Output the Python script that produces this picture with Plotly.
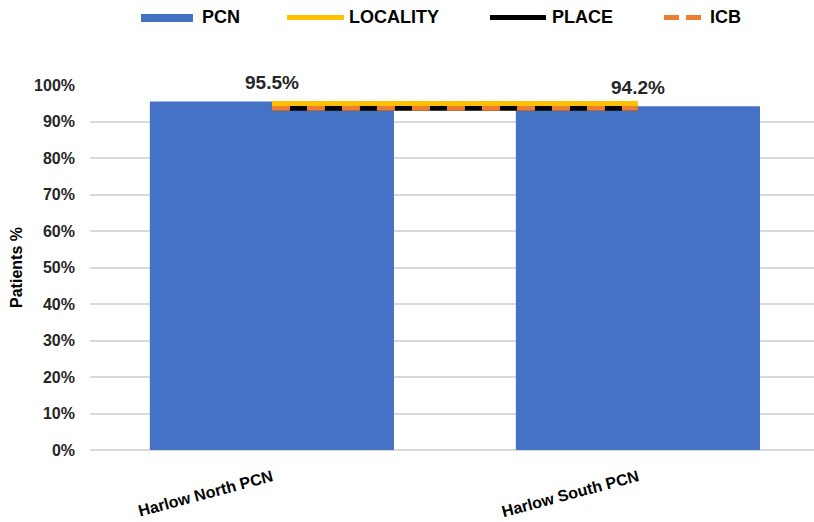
import plotly.graph_objects as go

# Data
categories = ["Harlow North PCN", "Harlow South PCN"]
pcn_values = [0.955, 0.942]
locality_values = [0.949, 0.949]
place_values = [0.936, 0.936]
icb_values = [0.936, 0.936]
y_ticks = [i / 10 for i in range(11)]
y_tick_labels = [f"{i * 10}%" for i in range(11)]

BLUE = "#4472C4"
YELLOW = "#FFC000"
BLACK = "#000000"
ORANGE = "#ED7D31"
FONT = "Liberation Sans"

W, H = 814, 522
M_L, M_R, M_T, M_B = 90, 0, 85, 72

fig = go.Figure()

fig.add_trace(go.Bar(
    x=categories, y=pcn_values, name="PCN",
    marker=dict(color=BLUE, line=dict(width=0)),
    showlegend=False, hoverinfo="skip",
))
fig.add_trace(go.Scatter(
    x=categories, y=place_values, name="PLACE", mode="lines",
    line=dict(color=BLACK, width=5), showlegend=False,
))
fig.add_trace(go.Scatter(
    x=categories, y=icb_values, name="ICB", mode="lines",
    line=dict(color=ORANGE, width=5, dash="18px,17px"), showlegend=False,
))
fig.add_trace(go.Scatter(
    x=categories, y=locality_values, name="LOCALITY", mode="lines",
    line=dict(color=YELLOW, width=5), showlegend=False,
))

# Value labels above the bars
annotations = []
for cat, val in zip(categories, pcn_values):
    annotations.append(dict(
        x=cat, y=val, xref="x", yref="y", text=f"{val * 100:.1f}%",
        showarrow=False, yanchor="bottom", yshift=6,
        font=dict(family=FONT, size=19, color="#262626", weight="bold"),
    ))


# Legend drawn across the top
def px_x(p):
    return (p - M_L) / (W - M_L - M_R)


def px_y(p):
    return (H - M_B - p) / (H - M_T - M_B)


shapes = []
ly = 17.5
shapes.append(dict(type="rect", xref="paper", yref="paper",
                   x0=px_x(141), x1=px_x(193), y0=px_y(22), y1=px_y(14),
                   fillcolor=BLUE, line=dict(width=0)))
for (x0, x1), col in [((287, 344), YELLOW), ((490, 546), BLACK),
                      ((664, 679), ORANGE), ((686, 701), ORANGE)]:
    shapes.append(dict(type="line", xref="paper", yref="paper",
                       x0=px_x(x0), x1=px_x(x1), y0=px_y(ly), y1=px_y(ly),
                       line=dict(color=col, width=5)))
for label, lx in [("PCN", 200), ("LOCALITY", 347), ("PLACE", 550), ("ICB", 708)]:
    annotations.append(dict(
        x=px_x(lx), y=px_y(ly), xref="paper", yref="paper", text=label,
        showarrow=False, xanchor="left", yanchor="middle",
        font=dict(family=FONT, size=18, color="#000000", weight="bold"),
    ))

fig.update_layout(
    width=W, height=H,
    margin=dict(l=M_L, r=M_R, t=M_T, b=M_B),
    paper_bgcolor="white", plot_bgcolor="white",
    bargap=0.333,
    showlegend=False,
    annotations=annotations,
    shapes=shapes,
    font=dict(family=FONT, color="#262626"),
)
fig.update_xaxes(
    range=[-0.497, 1.481],
    tickangle=-15,
    tickfont=dict(family=FONT, size=16, color="#000000", weight="bold"),
    showgrid=False, showline=False, ticks="",
    zeroline=False, ticklabelstandoff=14,
)
fig.update_yaxes(
    range=[0, 1],
    tickvals=y_ticks, ticktext=y_tick_labels,
    tickfont=dict(family=FONT, size=16, color="#262626", weight="bold"),
    showgrid=True, gridcolor="#D9D9D9", gridwidth=1.5,
    zeroline=True, zerolinecolor="#D9D9D9", zerolinewidth=1.5,
    ticks="", ticklabelstandoff=14,
    title=dict(text="Patients %", font=dict(family=FONT, size=16, color="#000000", weight="bold"), standoff=7),
)

fig.write_html("out.html")
